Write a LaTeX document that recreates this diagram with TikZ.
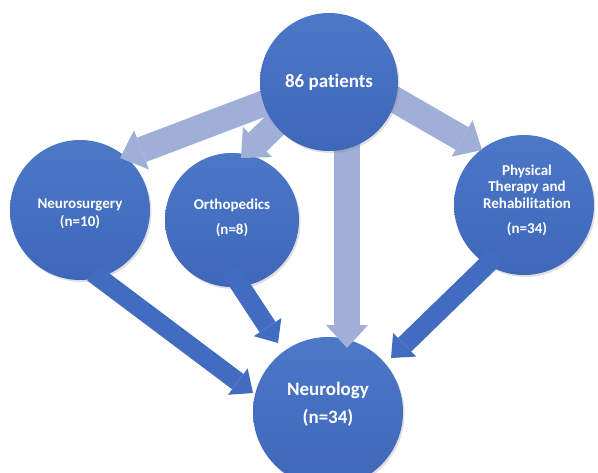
\documentclass[tikz,border=0pt]{standalone}
\usepackage{fontspec}
\setmainfont{Carlito}[Ligatures=NoCommon]
\usetikzlibrary{arrows.meta,calc,shadows}
\definecolor{circtop}{RGB}{76,120,200}
\definecolor{circbot}{RGB}{62,103,186}
\definecolor{lightarr}{RGB}{160,175,216}
\definecolor{darkarr}{RGB}{66,108,192}
\pgfdeclarelayer{lower}
\pgfdeclarelayer{light}
\pgfsetlayers{lower,light,main}
\tikzset{
  bubble/.style={circle, minimum size=#1, inner sep=0pt, top color=circtop, bottom color=circbot, draw=none,
    drop shadow={opacity=0.25, shadow xshift=1.5pt, shadow yshift=-2pt}},
  lbl/.style={text=white, align=center, font=\bfseries\fontsize{15}{18}\selectfont},
  lightarrow/.style={draw=lightarr, line width=26pt,
    -{Triangle[width=42pt,length=23pt,line width=0pt,fill=lightarr]}},
  darkarrow/.style={draw=darkarr, line width=19pt,
    -{Triangle[width=33pt,length=19pt,line width=0pt,fill=darkarr]}}
}
\begin{document}
\begin{tikzpicture}[x=1pt,y=-1pt]
\useasboundingbox (0,0) rectangle (598,472);
\clip (0,0) rectangle (598,472);
\begin{pgfonlayer}{lower}
  \node[bubble=140pt] (ns) at (80,210) {};
  \node[bubble=134pt] (or) at (232,220) {};
  \node[bubble=140pt] (pt) at (524,205) {};
  \node[bubble=150pt] (neuro) at (328,412) {};
\end{pgfonlayer}
\node[bubble=138pt] (top) at (329,82) {};
\begin{pgfonlayer}{light}
  \draw[lightarrow] ($(top.center)+(-22,5)$) -- ($(ns.center)+(40,-52)$);
  \draw[lightarrow] ($(top.center)+(-30,20)$) -- ($(or.center)+(9,-62)$);
  \draw[lightarrow] ($(top.center)+(18,0)$) -- ($(neuro.center)+(19,-64)$);
  \draw[lightarrow] ($(top.center)+(23,-7)$) -- ($(pt.center)+(-42,-55)$);
\end{pgfonlayer}
\draw[darkarrow] ($(ns.center)+(13,63)$) -- ($(neuro.center)+(-75,-19)$);
\draw[darkarrow] ($(or.center)+(-2,50)$) -- ($(neuro.center)+(-50,-69)$);
\draw[darkarrow] ($(pt.center)+(-27,50)$) -- ($(neuro.center)+(63,-54)$);
\node[lbl, font=\bfseries\fontsize{19}{22}\selectfont] (ttop) at (329,82) {86 patients};
\node[lbl] (tns) at (80,214) {Neurosurgery\\(n=10)};
\node[lbl] (tor) at (232,218) {Orthopedics\\[7pt](n=8)};
\node[lbl, font=\bfseries\fontsize{15}{16.5}\selectfont] (tpt) at (527,200) {Physical\\Therapy and\\Rehabilitation\\[8.5pt](n=34)};
\node[lbl, font=\bfseries\fontsize{19}{28}\selectfont] (tneuro) at (328,404) {Neurology\\(n=34)};
\end{tikzpicture}
\end{document}
